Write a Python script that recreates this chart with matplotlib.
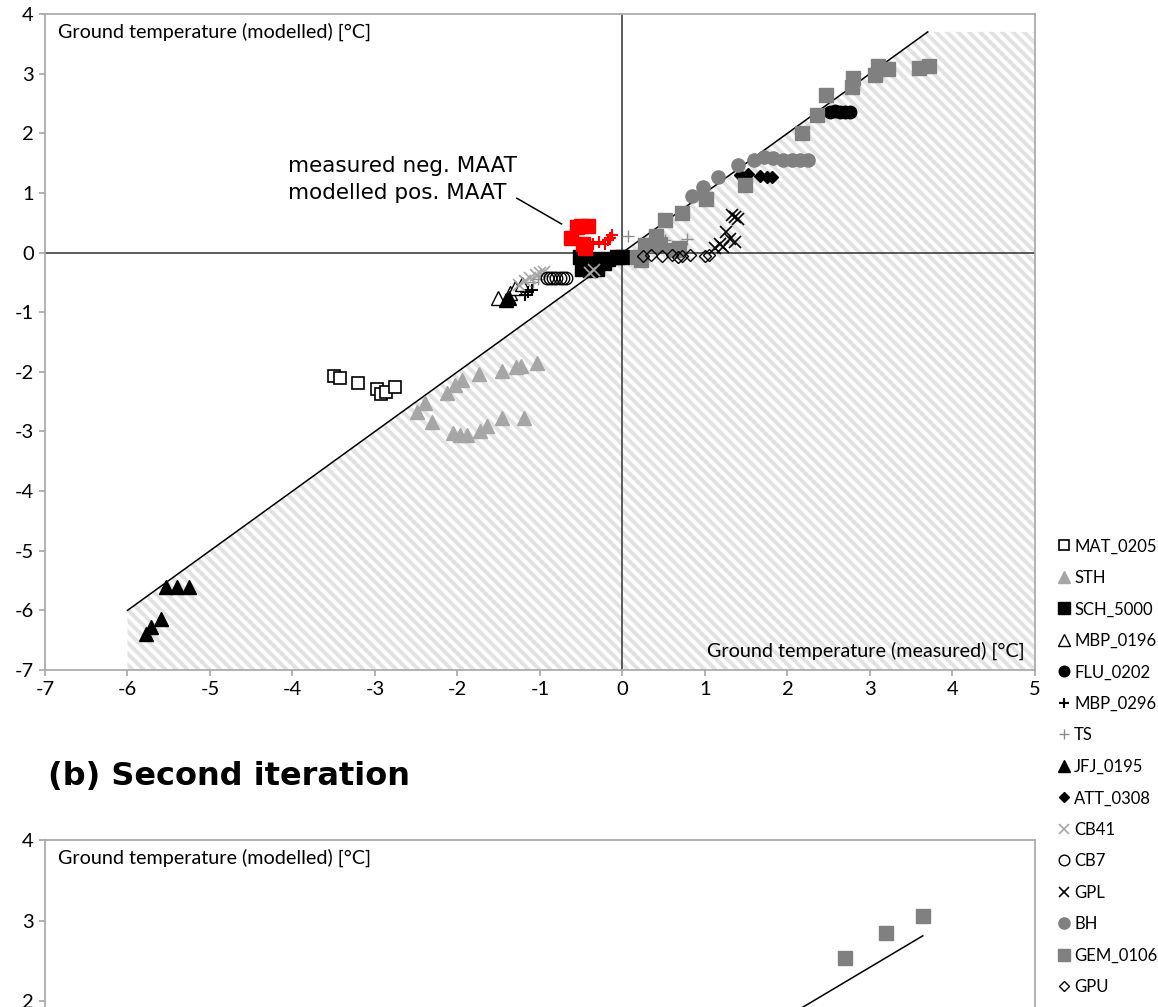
import numpy as np
import matplotlib
matplotlib.use("Agg")
import matplotlib.pyplot as plt
from matplotlib.collections import LineCollection
from matplotlib.patches import Polygon

# ground temperature: measured (x) vs modelled (y), first iteration
mat_0205_x = [-3.50, -3.42, -3.20, -2.98, -2.93, -2.87, -2.76]
mat_0205_y = [-2.07, -2.11, -2.18, -2.29, -2.37, -2.34, -2.26]

sth_x = [-2.49, -2.39, -2.31, -2.13, -2.03, -1.94, -1.74, -1.46, -1.29, -1.23, -1.04,
         -2.05, -1.97, -1.88, -1.73, -1.64, -1.46, -1.19]
sth_y = [-2.67, -2.53, -2.84, -2.36, -2.22, -2.13, -2.04, -1.98, -1.92, -1.90, -1.86,
         -3.02, -3.06, -3.06, -2.99, -2.91, -2.78, -2.77]

sch_5000_x = [-0.52, -0.49, -0.43, -0.39, -0.33, -0.31, -0.23, -0.17, -0.07, -0.01, -0.45, -0.36]
sch_5000_y = [-0.07, -0.27, -0.13, -0.29, -0.10, -0.27, -0.18, -0.10, -0.07, -0.07, -0.20, -0.22]

mbp_0196_x = [-1.51, -1.36, -1.30, -1.22]
mbp_0196_y = [-0.77, -0.68, -0.60, -0.52]

flu_0202_x = [2.52, 2.58, 2.64, 2.70, 2.76]
flu_0202_y = [2.36, 2.37, 2.36, 2.36, 2.36]

mbp_0296_x = [-1.18, -1.14, -1.10]
mbp_0296_y = [-0.72, -0.66, -0.62]

ts_x = [0.07, 0.52, 0.78, -1.08, -1.02, -0.95]
ts_y = [0.27, 0.21, 0.22, -0.50, -0.44, -0.40]

jfj_0195_x = [-5.53, -5.40, -5.26, -5.59, -5.72, -5.78, -1.41, -1.37]
jfj_0195_y = [-5.60, -5.60, -5.60, -6.15, -6.28, -6.40, -0.80, -0.76]

att_0308_x = [1.42, 1.52, 1.67, 1.75, 1.81]
att_0308_y = [1.30, 1.32, 1.29, 1.26, 1.27]

cb41_x = [-1.25, -1.18, -1.12, -1.05, -1.00, -0.95, -0.39, -0.34]
cb41_y = [-0.55, -0.48, -0.42, -0.38, -0.35, -0.33, -0.35, -0.30]

cb7_x = [-0.92, -0.88, -0.84, -0.80, -0.76, -0.72, -0.68]
cb7_y = [-0.43, -0.43, -0.43, -0.43, -0.43, -0.43, -0.43]

gpl_x = [1.33, 1.36, 1.40, 1.26, 1.36, 1.18, 1.22, 1.12, 1.30]
gpl_y = [0.63, 0.60, 0.57, 0.35, 0.18, 0.15, 0.10, 0.07, 0.22]

bh_x = [0.84, 0.98, 1.16, 1.40, 1.59, 1.71, 1.83, 1.95, 2.05, 2.15, 2.25]
bh_y = [0.94, 1.10, 1.27, 1.47, 1.56, 1.61, 1.58, 1.56, 1.56, 1.56, 1.56]

gem_0106_x = [0.17, 0.23, 0.27, 0.41, 0.45, 0.52, 0.64, 0.68, 0.72, 1.01, 1.48, 2.18, 2.36,
              2.47, 2.78, 2.80, 3.06, 3.10, 3.22, 3.59, 3.71]
gem_0106_y = [-0.07, -0.13, 0.13, 0.27, 0.15, 0.55, 0.04, 0.07, 0.67, 0.90, 1.13, 2.01, 2.31,
              2.64, 2.78, 2.92, 2.98, 3.12, 3.07, 3.09, 3.12]

gpu_x = [0.25, 0.35, 0.48, 0.60, 0.67, 0.72, 0.82, 1.00, 1.05]
gpu_y = [-0.05, -0.04, -0.05, -0.04, -0.07, -0.05, -0.04, -0.06, -0.04]

# points with negative measured but positive modelled MAAT
red_sq_x = [-0.62, -0.55, -0.50, -0.42, -0.48, -0.45]
red_sq_y = [0.24, 0.42, 0.45, 0.45, 0.15, 0.08]
red_plus_x = [-0.36, -0.29, -0.21, -0.18, -0.15, -0.13]
red_plus_y = [0.15, 0.18, 0.15, 0.21, 0.24, 0.29]

# 1:1 line and shaded area below it
one_x = [-6.0, 3.7]
one_y = [-6.0, 3.7]
shade_x = [-6.0, -6.0, 3.7, 5.0, 5.0]
shade_y = [-7.0, -6.0, 3.7, 3.7, -7.0]

# second iteration
b_gem_x = [2.70, 3.19, 3.64]
b_gem_y = [2.53, 2.84, 3.06]
b_line_x = [1.00, 3.64]
b_line_y = [1.20, 2.81]

x_ticks = list(range(-7, 6))
y_ticks = list(range(-7, 5))
y_ticks_b = [2, 3, 4]

series = [
    ("MAT_0205", mat_0205_x, mat_0205_y, dict(marker="s", mfc="white", mec="black", ms=9, mew=1.2)),
    ("STH", sth_x, sth_y, dict(marker="^", color="#a6a6a6", ms=10)),
    ("SCH_5000", sch_5000_x, sch_5000_y, dict(marker="s", color="black", ms=9.5)),
    ("MBP_0196", mbp_0196_x, mbp_0196_y, dict(marker="^", mfc="white", mec="black", ms=10, mew=1)),
    ("FLU_0202", flu_0202_x, flu_0202_y, dict(marker="o", color="black", ms=9)),
    ("MBP_0296", mbp_0296_x, mbp_0296_y, dict(marker="+", color="black", ms=9, mew=1.5)),
    ("TS", ts_x, ts_y, dict(marker="+", color="#8c8c8c", ms=9, mew=1)),
    ("JFJ_0195", jfj_0195_x, jfj_0195_y, dict(marker="^", color="black", ms=10)),
    ("ATT_0308", att_0308_x, att_0308_y, dict(marker="D", color="black", ms=6.5)),
    ("CB41", cb41_x, cb41_y, dict(marker="x", color="#a6a6a6", ms=8, mew=1.2)),
    ("CB7", cb7_x, cb7_y, dict(marker="o", mfc="none", mec="black", ms=9, mew=1)),
    ("GPL", gpl_x, gpl_y, dict(marker="x", color="black", ms=9, mew=1.2)),
    ("BH", bh_x, bh_y, dict(marker="o", color="#808080", ms=9.5)),
    ("GEM_0106", gem_0106_x, gem_0106_y, dict(marker="s", color="#808080", ms=9.5)),
    ("GPU", gpu_x, gpu_y, dict(marker="D", mfc="none", mec="black", ms=6.5, mew=1)),
]

W_PX, H_PX = 1158, 1007
fig = plt.figure(figsize=(W_PX / 100, H_PX / 100), dpi=100)

frame_col = "#a6a6a6"
label_size = 14.2


def style_axes(ax, yticks, show_x=True):
    ax.set_xlim(-7, 5)
    ax.set_ylim(-7, 4)
    ax.set_xticks(x_ticks)
    ax.set_yticks(yticks)
    for s in ax.spines.values():
        s.set_color(frame_col)
        s.set_linewidth(1.2)
    ax.tick_params(direction="out", length=4, width=1.2, color=frame_col, labelsize=14.5, pad=4)
    ax.set_xticklabels([str(v) for v in x_ticks] if show_x else [])
    ax.set_yticklabels([str(v) for v in yticks])
    for lab in ax.get_xticklabels() + ax.get_yticklabels():
        lab.set_fontfamily("Lato")
    # label placed a fixed distance below the top of the frame
    h_px = ax.get_position().height * H_PX
    ax.text(0.013, 1 - 9 / h_px, "Ground temperature (modelled) [°C]", transform=ax.transAxes,
            ha="left", va="top", fontsize=label_size, family="Lato")


# (a) first iteration
ax = fig.add_axes([45 / W_PX, 1 - 670 / H_PX, 990 / W_PX, 656 / H_PX])
style_axes(ax, y_ticks)

shade = Polygon(list(zip(shade_x, shade_y)), closed=True, facecolor="white",
                edgecolor="none", zorder=0)
ax.add_patch(shade)

# diagonal stripes, drawn in screen space so they stay at 45 degrees
bb = ax.get_position()
w_ax, h_ax = bb.width * W_PX, bb.height * H_PX
step = 11.0
segs = [[(c / w_ax, 0), ((c - h_ax) / w_ax, 1)] for c in np.arange(0, w_ax + h_ax, step)]
stripes = LineCollection(segs, transform=ax.transAxes, colors="#e2e2e2", linewidths=2.8, zorder=0.5)
stripes.set_clip_path(shade)
ax.add_collection(stripes)

ax.axhline(0, color="#303030", lw=1.1, zorder=1)
ax.axvline(0, color="#303030", lw=1.1, zorder=1)
ax.plot(one_x, one_y, color="black", lw=1.1, zorder=1)

handles = []
for name, xs, ys, st in series:
    h, = ax.plot(xs, ys, ls="none", label=name, zorder=3, **st)
    handles.append(h)

ax.plot(red_sq_x, red_sq_y, ls="none", marker="s", color="red", ms=9.5, zorder=4)
ax.plot(red_plus_x, red_plus_y, ls="none", marker="+", color="red", ms=9, mew=1.5, zorder=5)

ax.text(-4.05, 1.22, "measured neg. MAAT\nmodelled pos. MAAT", ha="left", va="center",
        fontsize=15.5, family="DejaVu Sans", linespacing=1.42)
ax.plot([-1.28, -0.74], [0.91, 0.48], color="black", lw=1.1)

ax.text(0.99, 0.015, "Ground temperature (measured) [°C]", transform=ax.transAxes,
        ha="right", va="bottom", fontsize=label_size, family="Lato")

# (b) second iteration
fig.text(48 / W_PX, 1 - 777 / H_PX, "(b) Second iteration", ha="left", va="center",
         fontsize=23, fontweight="bold", family="DejaVu Sans")

h_b = 11 * 80.5
ax2 = fig.add_axes([45 / W_PX, 1 - (840 + h_b) / H_PX, 990 / W_PX, h_b / H_PX])
style_axes(ax2, y_ticks_b, show_x=False)
ax2.plot(b_gem_x, b_gem_y, ls="none", marker="s", color="#808080", ms=9.5, zorder=3)
ax2.plot(b_line_x, b_line_y, color="black", lw=1.1)

fig.legend(handles=handles, loc="upper left", bbox_to_anchor=(1050 / W_PX, 1 - 530 / H_PX),
           frameon=False, prop=dict(family="Lato", size=12), handlelength=0.7,
           handletextpad=0.25, labelspacing=0.93, borderpad=0, markerscale=0.85)

fig.savefig("out.png", dpi=100)
